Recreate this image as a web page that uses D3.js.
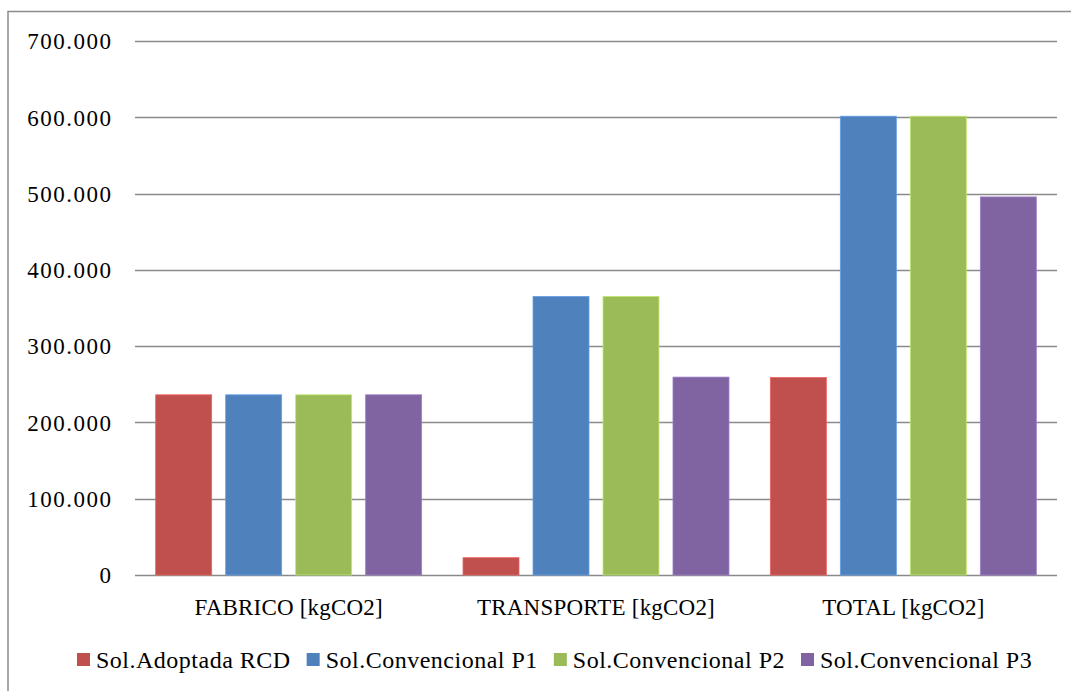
<!DOCTYPE html>
<html>
<head>
<meta charset="utf-8">
<script src="https://cdn.jsdelivr.net/npm/d3@7"></script>
<style>
  html, body { margin: 0; padding: 0; background: #fff; }
  svg { display: block; }
  text { font-family: "Liberation Serif", "DejaVu Serif", serif; fill: #000; }
</style>
</head>
<body>
<svg id="chart" width="1071" height="691"></svg>
<script>
// Emissions in kgCO2 per stage and solution
const categories = ["FABRICO [kgCO2]", "TRANSPORTE [kgCO2]", "TOTAL [kgCO2]"];
const series = ["Sol.Adoptada RCD", "Sol.Convencional P1", "Sol.Convencional P2", "Sol.Convencional P3"];
const colors = ["#C0504D", "#4F81BD", "#9BBB59", "#8064A2"];
const adoptadaRCD      = [236200,  22700, 258900];
const convencionalP1   = [236200, 365200, 601400];
const convencionalP2   = [236200, 365200, 601400];
const convencionalP3   = [236200, 259400, 495600];
const yTicks = [0, 100000, 200000, 300000, 400000, 500000, 600000, 700000];

const seriesValues = [adoptadaRCD, convencionalP1, convencionalP2, convencionalP3];

const plot = { left: 135, right: 1057, top: 41, bottom: 575 };

const svg = d3.select("#chart");

// Outer chart frame (extends past the window on the right and bottom)
svg.append("rect")
  .attr("x", 8).attr("y", 11.5)
  .attr("width", 1200).attr("height", 800)
  .attr("fill", "none").attr("stroke", "#8c8c8c").attr("stroke-width", 1.5);

const pt = d3.formatLocale({ decimal: ",", thousands: ".", grouping: [3], currency: ["", ""] });
const fmt = pt.format(",.0f");

const y = d3.scaleLinear().domain([0, 700000]).range([plot.bottom, plot.top]);
const x0 = d3.scaleBand().domain(categories).range([plot.left, plot.right]);
const outer = x0.bandwidth() * 0.0673;
const x1 = d3.scaleBand().domain(series)
  .range([outer, x0.bandwidth() - outer])
  .paddingInner(0.2).paddingOuter(0);

// Gridlines
svg.append("g").selectAll("line").data(yTicks).join("line")
  .attr("x1", plot.left).attr("x2", plot.right)
  .attr("y1", d => Math.round(y(d)) + 0.5).attr("y2", d => Math.round(y(d)) + 0.5)
  .attr("stroke", "#8a8a8a").attr("stroke-width", 1.6);

// Y tick labels
svg.append("g").selectAll("text").data(yTicks).join("text")
  .attr("x", 112.5).attr("y", d => y(d))
  .attr("dy", "0.36em")
  .attr("text-anchor", "end")
  .style("font-size", "23px")
  .style("letter-spacing", "1.5px")
  .text(d => fmt(d));

// Bars
const groups = svg.append("g").selectAll("g").data(categories).join("g")
  .attr("transform", c => `translate(${x0(c)},0)`);

groups.selectAll("rect")
  .data((c, ci) => series.map((s, si) => ({ s, si, v: seriesValues[si][ci] })))
  .join("rect")
  .attr("x", d => x1(d.s))
  .attr("width", x1.bandwidth())
  .attr("y", d => y(d.v))
  .attr("height", d => y(0) - y(d.v))
  .attr("fill", d => colors[d.si])
  .attr("stroke", d => d3.color(colors[d.si]).brighter(0.6))
  .attr("stroke-width", 0.8);

// Category labels
svg.append("g").selectAll("text").data(categories).join("text")
  .attr("x", c => x0(c) + x0.bandwidth() / 2)
  .attr("y", 607)
  .attr("dy", "0.36em")
  .attr("text-anchor", "middle")
  .style("font-size", "23px")
  .style("letter-spacing", "0.2px")
  .text(c => c);

// Legend
const legend = svg.append("g");
const items = legend.selectAll("g").data(series).join("g");
items.append("rect")
  .attr("width", 13).attr("height", 13)
  .attr("y", 653)
  .attr("fill", (d, i) => colors[i]);
items.append("text")
  .attr("x", 19).attr("y", 659.5)
  .attr("dy", "0.36em")
  .style("font-size", "24px")
  .style("letter-spacing", "0.5px")
  .text(d => d);

let cx = 77;
const offsets = [];
items.each(function () {
  offsets.push(cx);
  const w = d3.select(this).select("text").node().getComputedTextLength();
  cx += 19 + w + 16;
});
items.attr("transform", (d, i) => `translate(${offsets[i]},0)`);
</script>
</body>
</html>
